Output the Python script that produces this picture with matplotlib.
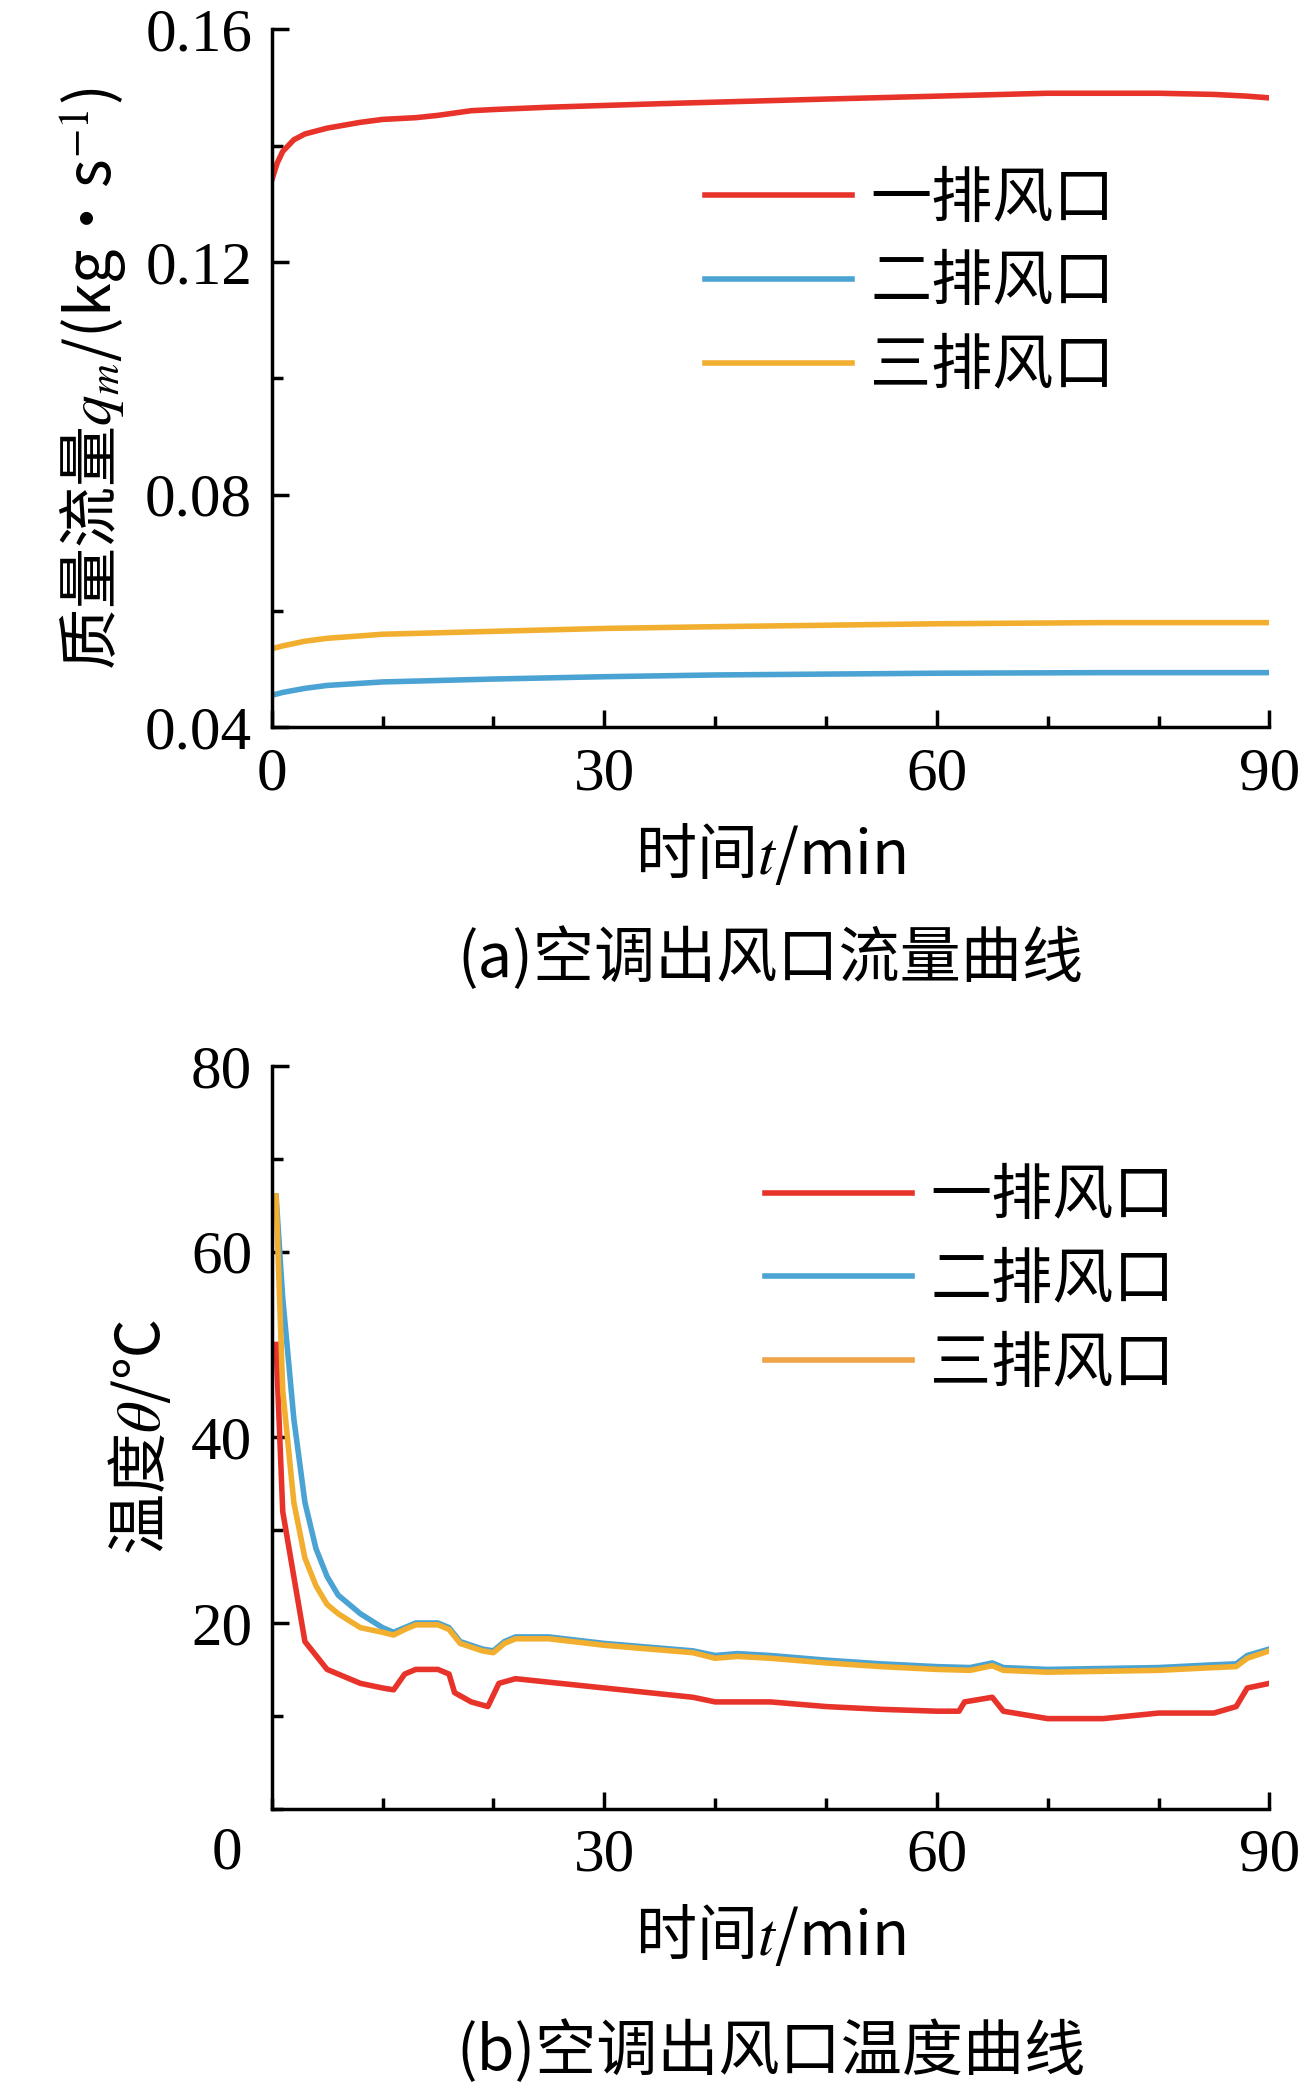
import matplotlib
matplotlib.use('Agg')
import matplotlib.pyplot as plt
from matplotlib.ticker import MultipleLocator

plt.rcParams['font.family'] = ['Liberation Serif', 'Noto Sans CJK SC', 'DejaVu Sans']
plt.rcParams['mathtext.fontset'] = 'stix'

series_names = ['一排风口', '二排风口', '三排风口']

# (a) mass flow
a_t1 = [0, 0.5, 1, 2, 3, 5, 8, 10, 13, 15, 18, 20, 25, 35, 50, 60, 70, 80, 85, 88, 90]
a_red = [0.134, 0.137, 0.139, 0.141, 0.142, 0.143, 0.144, 0.1445, 0.1448, 0.1452, 0.146, 0.1462, 0.1466, 0.1472, 0.148, 0.1485, 0.149, 0.149, 0.1488, 0.1485, 0.1482]
a_t2 = [0, 1, 3, 5, 10, 20, 30, 40, 60, 75, 90]
a_blue = [0.0455, 0.046, 0.0467, 0.0472, 0.0478, 0.0483, 0.0487, 0.049, 0.0493, 0.0494, 0.0494]
a_yel = [0.0535, 0.054, 0.0548, 0.0553, 0.056, 0.0565, 0.057, 0.0573, 0.0578, 0.058, 0.058]

# (b) temperature
b_tr = [0.4, 1, 2, 3, 5, 8, 10, 11, 12, 13, 15, 16, 16.5, 18, 19.5, 20.5, 22, 30, 38, 40, 45, 50, 55, 60, 62, 62.5, 65, 66, 70, 75, 80, 85, 87, 88, 90]
b_red = [50, 32, 25, 18, 15, 13.5, 13, 12.8, 14.5, 15, 15, 14.5, 12.5, 11.5, 11, 13.5, 14, 13, 12, 11.5, 11.5, 11, 10.7, 10.5, 10.5, 11.5, 12, 10.5, 9.7, 9.7, 10.3, 10.3, 11, 13, 13.5]
b_tb = [0.4, 1, 2, 3, 4, 5, 6, 8, 10, 11, 12, 13, 15, 16, 17, 19, 20, 21, 22, 25, 30, 35, 38, 40, 42, 45, 50, 55, 60, 63, 65, 66, 70, 75, 80, 85, 87, 88, 90]
b_blue = [66, 55, 42, 33, 28, 25, 23, 21, 19.5, 19, 19.5, 20, 20, 19.5, 18, 17.2, 17, 18, 18.5, 18.5, 17.8, 17.3, 17, 16.5, 16.7, 16.5, 16, 15.6, 15.3, 15.2, 15.7, 15.2, 15, 15.1, 15.2, 15.5, 15.6, 16.5, 17.2]
b_org = [66, 45, 33, 27, 24, 22, 21, 19.5, 19, 18.7, 19.3, 19.8, 19.8, 19.3, 17.8, 17.0, 16.8, 17.8, 18.3, 18.3, 17.6, 17.1, 16.8, 16.2, 16.4, 16.2, 15.7, 15.3, 15.0, 14.9, 15.4, 14.9, 14.7, 14.8, 14.9, 15.2, 15.3, 16.2, 17.0]

RED = '#E8332B'; BLUE = '#4BA3D3'; YEL = '#F2AE2E'; ORG = '#EDA548'
FS = 44
cjk = ['Noto Sans CJK SC', 'Liberation Serif']

fig = plt.figure(figsize=(13.06, 20.9), dpi=100)
ax1 = fig.add_axes([0.208, 0.652, 0.764, 0.334])
ax2 = fig.add_axes([0.208, 0.1346, 0.764, 0.3554])

for ax in (ax1, ax2):
    for s in ('top', 'right'):
        ax.spines[s].set_visible(False)
    for s in ('left', 'bottom'):
        ax.spines[s].set_linewidth(2.5)
    ax.set_xlim(0, 90)
    ax.xaxis.set_major_locator(MultipleLocator(30))
    ax.xaxis.set_minor_locator(MultipleLocator(10))
    ax.tick_params(which='both', direction='in', width=2.5, labelsize=FS)
    ax.tick_params(which='major', length=12, pad=14)
    ax.tick_params(which='minor', length=8)

ax1.plot(a_t1, a_red, color=RED, lw=4, label=series_names[0])
ax1.plot(a_t2, a_blue, color=BLUE, lw=4, label=series_names[1])
ax1.plot(a_t2, a_yel, color=YEL, lw=4, label=series_names[2])
ax1.set_ylim(0.04, 0.16)
ax1.yaxis.set_major_locator(MultipleLocator(0.04))
ax1.yaxis.set_minor_locator(MultipleLocator(0.02))
ax1.set_yticks([0.04, 0.08, 0.12, 0.16])
ax1.set_yticklabels(['0.04', '0.08', '0.12', '0.16'])
ax1.set_ylim(0.04, 0.16)
ax1.set_ylabel(r'质量流量$q_m$/(kg·s$^{-1}$)', fontsize=FS, family=cjk, labelpad=12)
ax1.set_xlabel(r'时间$t$/min', fontsize=FS, family=cjk, labelpad=14)
ax1.legend(loc='upper right', bbox_to_anchor=(0.9, 0.88), frameon=False,
           handlelength=2.4, handletextpad=0.3, labelspacing=0.35, prop={'family': cjk, 'size': FS})
fig.text(0.59, 0.541, '(a)空调出风口流量曲线', fontsize=FS, family=cjk, ha='center', va='center')

ax2.plot(b_tr, b_red, color=RED, lw=4, label=series_names[0])
ax2.plot(b_tb, b_blue, color=BLUE, lw=4, label=series_names[1])
ax2.plot(b_tb, b_org, color=YEL, lw=4, label=series_names[2])
ax2.set_ylim(0, 80)
ax2.yaxis.set_minor_locator(MultipleLocator(10))
ax2.set_yticks([20, 40, 60, 80])
ax2.set_xticks([30, 60, 90])
ax2.set_ylim(0, 80)
ax2.text(-0.045, -0.06, '0', transform=ax2.transAxes, fontsize=FS, ha='center', va='center')
ax2.set_ylabel(r'温度$\theta$/℃', fontsize=FS, family=cjk, labelpad=12)
ax2.set_xlabel(r'时间$t$/min', fontsize=FS, family=cjk, labelpad=14)
leg = ax2.legend(loc='upper right', bbox_to_anchor=(0.96, 0.94), frameon=False,
           handlelength=2.4, handletextpad=0.3, labelspacing=0.35, prop={'family': cjk, 'size': FS})
leg.get_lines()[2].set_color(ORG)
fig.text(0.59, 0.018, '(b)空调出风口温度曲线', fontsize=FS, family=cjk, ha='center', va='center')

fig.savefig('out.png', dpi=100)
